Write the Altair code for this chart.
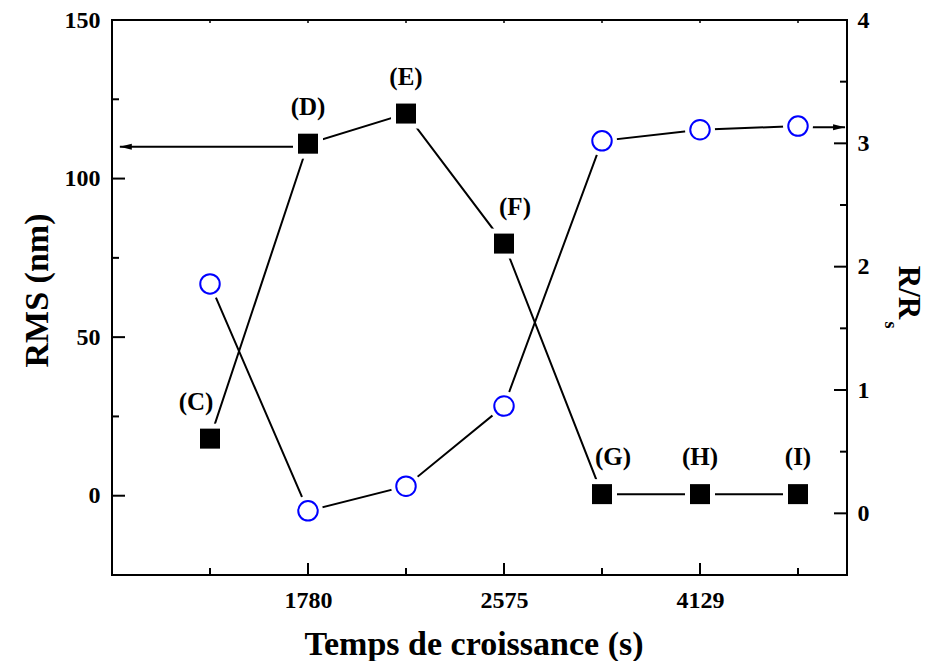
import altair as alt
import pandas as pd

# ---- data ----
x_pos = [1, 2, 3, 4, 5, 6, 7]
letters = ["(C)", "(D)", "(E)", "(F)", "(G)", "(H)", "(I)"]
rms = [18.0, 111.0, 120.5, 79.5, 0.5, 0.5, 0.5]
rrs = [1.86, 0.02, 0.22, 0.87, 3.02, 3.11, 3.14]

time_tick_pos = [2, 4, 6]
time_tick_labels = ["1780", "2575", "4129"]
x_minor = [1, 3, 5, 7]
x_all = [1, 2, 3, 4, 5, 6, 7]

rms_major = [0, 50, 100, 150]
rms_minor = [25, 75, 125]
rrs_major = [0, 1, 2, 3, 4]
rrs_minor = [0.5, 1.5, 2.5, 3.5]

left_labels = ["(C)"]
right_labels = ["(F)", "(G)"]

# arrows (data units)
left_arrow_x = [0.08, 1.87]
left_arrow_y = 110.0
right_arrow_x = [7.12, 7.48]
right_arrow_y = 3.13

W, H = 735, 555
FONT = "Liberation Serif"

df = pd.DataFrame({"x": x_pos, "lab": letters, "rms": rms, "rrs": rrs})

xs = alt.Scale(domain=[0, 7.5], nice=False, zero=False)
ys_l = alt.Scale(domain=[-25, 150], nice=False, zero=False)
ys_r = alt.Scale(domain=[-0.5, 4], nice=False, zero=False)

label_expr = " : ".join(
    f"datum.value == {p} ? '{l}'" for p, l in zip(time_tick_pos, time_tick_labels)
) + " : ''"

x_axis = alt.Axis(
    values=time_tick_pos, labelExpr=label_expr, ticks=False, domain=False, grid=False,
    labelFont=FONT, labelFontSize=24, labelFontWeight="bold", labelColor="black",
    labelPadding=13, title="Temps de croissance (s)", titleFont=FONT, titleFontSize=34,
    titleFontWeight="bold", titleColor="black", titleX=W / 2 - 6, titleY=69,
    titleBaseline="middle", titleAlign="center", orient="bottom",
)
yl_axis = alt.Axis(
    values=rms_major, ticks=False, domain=False, grid=False, orient="left",
    labelFont=FONT, labelFontSize=24, labelFontWeight="bold", labelColor="black",
    labelPadding=12, title="RMS (nm)", titleFont=FONT, titleFontSize=34,
    titleFontWeight="bold", titleColor="black", titleX=-75, titleY=270,
    titleAngle=270, titleBaseline="middle", titleAlign="center",
)
yr_axis = alt.Axis(
    values=rrs_major, ticks=False, domain=False, grid=False, orient="right",
    labelFont=FONT, labelFontSize=24, labelFontWeight="bold", labelColor="black",
    labelPadding=10, title="R/R", titleFont=FONT, titleFontSize=31,
    titleFontWeight="bold", titleColor="black", titleX=60, titleY=272,
    titleAngle=90, titleBaseline="middle", titleAlign="center",
)


def X(field):
    return alt.X(field, scale=xs, axis=x_axis)


def YL(field):
    return alt.Y(field, scale=ys_l, axis=yl_axis)


def YR(field):
    return alt.Y(field, scale=ys_r, axis=yr_axis)


base = alt.Chart(df)

# ---------------- left (RMS) group ----------------
rms_line = base.mark_line(color="black", strokeWidth=2).encode(x=X("x:Q"), y=YL("rms:Q"))
rms_halo = base.mark_point(shape="square", filled=True, color="white", size=900, opacity=1).encode(
    x=X("x:Q"), y=YL("rms:Q")
)
rms_pts = base.mark_point(shape="square", filled=True, color="black", size=400, opacity=1).encode(
    x=X("x:Q"), y=YL("rms:Q")
)


def label_layer(flt, dx):
    return base.transform_filter(flt).mark_text(
        font=FONT, fontSize=25, fontWeight="bold", color="black", dy=-37, dx=dx,
        align="center", baseline="middle",
    ).encode(x=X("x:Q"), y=YL("rms:Q"), text="lab:N")


lab_l = label_layer(alt.FieldOneOfPredicate(field="lab", oneOf=left_labels), -14)
lab_r = label_layer(alt.FieldOneOfPredicate(field="lab", oneOf=right_labels), 11)
lab_c = label_layer(
    {"not": alt.FieldOneOfPredicate(field="lab", oneOf=left_labels + right_labels)}, 0
)

la_df = pd.DataFrame({"x": left_arrow_x, "y": [left_arrow_y] * 2})
la_line = alt.Chart(la_df).mark_line(color="black", strokeWidth=2).encode(x=X("x:Q"), y=YL("y:Q"))
la_head = alt.Chart(pd.DataFrame({"x": [left_arrow_x[0]], "y": [left_arrow_y]})).mark_point(
    shape="M0,0L2,-0.5L2,0.5Z", filled=True, color="black", size=144, opacity=1
).encode(x=X("x:Q"), y=YL("y:Q"))

lmaj = alt.Chart(pd.DataFrame({"v": rms_major})).mark_rule(color="black", strokeWidth=2).encode(
    y=YL("v:Q"), x=alt.value(0), x2=alt.value(13)
)
lmin = alt.Chart(pd.DataFrame({"v": rms_minor})).mark_rule(color="black", strokeWidth=2).encode(
    y=YL("v:Q"), x=alt.value(0), x2=alt.value(7)
)
bmaj = alt.Chart(pd.DataFrame({"v": time_tick_pos})).mark_rule(color="black", strokeWidth=2).encode(
    x=X("v:Q"), y=alt.value(H), y2=alt.value(H - 12)
)
bmin = alt.Chart(pd.DataFrame({"v": x_minor})).mark_rule(color="black", strokeWidth=2).encode(
    x=X("v:Q"), y=alt.value(H), y2=alt.value(H - 7)
)
tmin = alt.Chart(pd.DataFrame({"v": x_all})).mark_rule(color="black", strokeWidth=1.5).encode(
    x=X("v:Q"), y=alt.value(0), y2=alt.value(3)
)

left = alt.layer(rms_line, lmaj, lmin, bmaj, bmin, tmin, la_line, la_head,
                 rms_halo, rms_pts, lab_l, lab_r, lab_c)

# ---------------- right (R/Rs) group ----------------
rrs_line = base.mark_line(color="black", strokeWidth=2).encode(x=X("x:Q"), y=YR("rrs:Q"))
rrs_halo = base.mark_point(shape="circle", filled=True, color="white", size=900, opacity=1).encode(
    x=X("x:Q"), y=YR("rrs:Q")
)
rrs_pts = base.mark_point(shape="circle", fill="white", stroke="#0000FF", strokeWidth=2,
                          filled=False, size=380, opacity=1, fillOpacity=1).encode(
    x=X("x:Q"), y=YR("rrs:Q")
)
ra_df = pd.DataFrame({"x": right_arrow_x, "y": [right_arrow_y] * 2})
ra_line = alt.Chart(ra_df).mark_line(color="black", strokeWidth=2).encode(x=X("x:Q"), y=YR("y:Q"))
ra_head = alt.Chart(pd.DataFrame({"x": [right_arrow_x[1]], "y": [right_arrow_y]})).mark_point(
    shape="M0,0L-2,-0.5L-2,0.5Z", filled=True, color="black", size=144, opacity=1
).encode(x=X("x:Q"), y=YR("y:Q"))

rmaj = alt.Chart(pd.DataFrame({"v": rrs_major})).mark_rule(color="black", strokeWidth=2).encode(
    y=YR("v:Q"), x=alt.value(W), x2=alt.value(W - 13)
)
rmin = alt.Chart(pd.DataFrame({"v": rrs_minor})).mark_rule(color="black", strokeWidth=2).encode(
    y=YR("v:Q"), x=alt.value(W), x2=alt.value(W - 7)
)
sub_s = alt.Chart(pd.DataFrame({"t": ["s"]})).mark_text(
    font=FONT, fontSize=18, fontWeight="bold", color="black", angle=90,
    align="center", baseline="middle",
).encode(text="t:N", x=alt.value(W + 43), y=alt.value(305))

right = alt.layer(rrs_line, rmaj, rmin, ra_line, ra_head, rrs_halo, rrs_pts, sub_s)

chart = alt.layer(left, right).resolve_scale(y="independent").properties(
    width=W, height=H,
    autosize=alt.AutoSizeParams(type="none"),
    padding={"left": 104, "top": 12, "right": 78, "bottom": 86},
    background="white",
).configure_view(stroke="black", strokeWidth=2)

chart.save("out.html", embed_options={"renderer": "svg", "actions": False})
